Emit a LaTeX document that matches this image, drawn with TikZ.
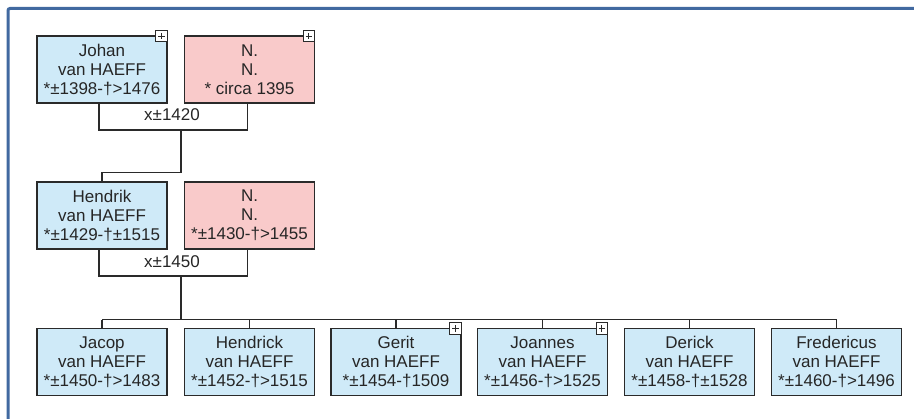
\documentclass[tikz,border=0pt]{standalone}
\usepackage{fontspec}
\setmainfont{Liberation Sans}
\usetikzlibrary{calc}
\definecolor{framec}{HTML}{4169A0}
\definecolor{mfill}{HTML}{CFEAF8}
\definecolor{ffill}{HTML}{F9CACA}
\definecolor{linec}{HTML}{2A2A2A}
\definecolor{txtc}{HTML}{262626}
\tikzset{
  person/.style={draw=linec, line width=1.1pt, minimum width=130pt, minimum height=67pt,
    inner sep=0pt, align=center, text=txtc, font=\fontsize{17}{19}\selectfont},
  male/.style={person, fill=mfill},
  female/.style={person, fill=ffill},
  conn/.style={draw=linec, line width=1.1pt},
  lbl/.style={text=txtc, font=\fontsize{17}{19}\selectfont, inner sep=0pt},
  plusbox/.style={draw=linec, fill=white, line width=1pt, minimum size=11.5pt, inner sep=0pt,
    anchor=north east,
    path picture={\draw[linec, line width=1.1pt]
      ([yshift=-2.5pt]path picture bounding box.north) -- ([yshift=2.5pt]path picture bounding box.south)
      ([xshift=2.5pt]path picture bounding box.west) -- ([xshift=-2.5pt]path picture bounding box.east);}},
}
\begin{document}
\begin{tikzpicture}[x=1pt,y=-1pt]
\useasboundingbox (0,0) rectangle (914,419);
\fill[white] (0,0) rectangle (914,419);
% frame
\draw[framec, line width=3pt, rounded corners=2pt] (8,419) -- (8,8.5) -- (914,8.5);

% generation 1
\node[male]   (j)  at (102,69.5)  {Johan\\van HAEFF\\*±1398-†>1476};
\node[female] (n1) at (249.5,69.5) {N.\\N.\\* circa 1395};
\node[plusbox] (pj)  at ([yshift=5.5pt]j.north east) {};
\node[plusbox] (pn1) at ([yshift=5.5pt]n1.north east) {};
\draw[conn] ([xshift=-3pt]j.south) |- (181,130) -| ([xshift=-2pt]n1.south);
\node[lbl] (m1) at (172,115) {x±1420};
\coordinate (c1) at (181,130);

% generation 2
\node[male]   (h)  at (102,215.5)  {Hendrik\\van HAEFF\\*±1429-†±1515};
\node[female] (n2) at (249.5,215.5) {N.\\N.\\*±1430-†>1455};
\draw[conn] (c1) |- ([yshift=9pt]h.north) -- (h.north);
\draw[conn] ([xshift=-3pt]h.south) |- (181,276) -| ([xshift=-2pt]n2.south);
\node[lbl] (m2) at (172,262) {x±1450};
\coordinate (c2) at (181,276);

% generation 3
\node[male] (k1) at (102,362)   {Jacop\\van HAEFF\\*±1450-†>1483};
\node[male] (k2) at (249.5,362) {Hendrick\\van HAEFF\\*±1452-†>1515};
\node[male] (k3) at (396,362)   {Gerit\\van HAEFF\\*±1454-†1509};
\node[male] (k4) at (542.5,362) {Joannes\\van HAEFF\\*±1456-†>1525};
\node[male] (k5) at (689.5,362) {Derick\\van HAEFF\\*±1458-†±1528};
\node[male] (k6) at (836.5,362) {Fredericus\\van HAEFF\\*±1460-†>1496};
\node[plusbox] (pk3) at ([yshift=5.5pt]k3.north east) {};
\node[plusbox] (pk4) at ([yshift=5.5pt]k4.north east) {};

\draw[conn] (c2) -- (181,320);
\draw[conn] ([yshift=8pt]k1.north) -- ([yshift=8pt]k6.north);
\foreach \k in {k1,k2,k3,k4,k5,k6}{
  \draw[conn] ([yshift=8pt]\k.north) -- (\k.north);
}
\end{tikzpicture}
\end{document}
